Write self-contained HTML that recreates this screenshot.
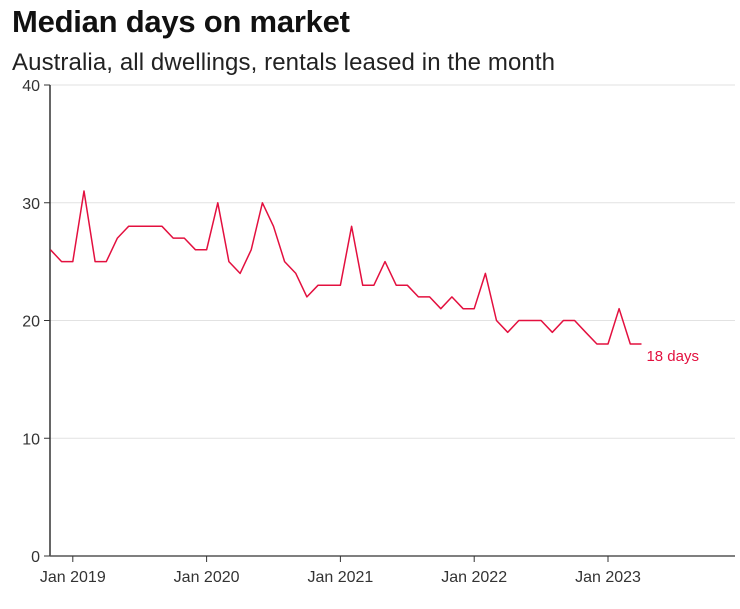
<!DOCTYPE html>
<html><head><meta charset="utf-8"><style>
body{margin:0;background:#fff;width:740px;height:604px;overflow:hidden;font-family:"Liberation Sans",sans-serif}
</style></head><body>
<svg width="740" height="604" xmlns="http://www.w3.org/2000/svg">
<text x="12" y="32" font-size="31" font-weight="bold" fill="#111" textLength="338">Median days on market</text>
<text x="12" y="70" font-size="24" fill="#222" textLength="543">Australia, all dwellings, rentals leased in the month</text>
<g id="grid"></g><g id="axes"></g>
<path id="line" fill="none" stroke="#e3103f" stroke-width="1.5" stroke-linejoin="round"/>
<text id="endlabel" font-size="15" fill="#e3103f">18 days</text>
</svg>
<script>
const values=[26,25,25,31,25,25,27,28,28,28,28,27,27,26,26,30,25,24,26,30,28,25,24,22,23,23,23,28,23,23,25,23,23,22,22,21,22,21,21,24,20,19,20,20,20,19,20,20,19,18,18,21,18,18];
const yTicks=[0,10,20,30,40];
const xLabels=["Jan 2019","Jan 2020","Jan 2021","Jan 2022","Jan 2023"];
const xLabelIdx=[2,14,26,38,50];
const endLabel="18 days";
const NS="http://www.w3.org/2000/svg";
const x=i=>50.5+i*11.15;
const y=v=>556-v*11.775;
const grid=document.getElementById('grid'),axes=document.getElementById('axes');
yTicks.forEach(t=>{
 if(t>0){const l=document.createElementNS(NS,'line');
 l.setAttribute('x1',50);l.setAttribute('x2',735);l.setAttribute('y1',y(t));l.setAttribute('y2',y(t));
 l.setAttribute('stroke','#e2e2e2');l.setAttribute('stroke-width','1');
 
 
 grid.appendChild(l);}
 const tk=document.createElementNS(NS,'line');
 tk.setAttribute('x1',44);tk.setAttribute('x2',50);tk.setAttribute('y1',y(t));tk.setAttribute('y2',y(t));
 tk.setAttribute('stroke','#333');
 
 
 axes.appendChild(tk);
 const tx=document.createElementNS(NS,'text');
 tx.setAttribute('x',40);tx.setAttribute('y',y(t)+6);tx.setAttribute('text-anchor','end');tx.setAttribute('font-size','16');tx.setAttribute('fill','#333');
 tx.textContent=t;
 
 
 axes.appendChild(tx);
});
const ax=document.createElementNS(NS,'line');
ax.setAttribute('x1',50);ax.setAttribute('x2',50);ax.setAttribute('y1',85);ax.setAttribute('y2',556);ax.setAttribute('stroke','#333');ax.setAttribute('stroke-width','1.5');


axes.appendChild(ax);
const bx=document.createElementNS(NS,'line');
bx.setAttribute('x1',50);bx.setAttribute('x2',735);bx.setAttribute('y1',556);bx.setAttribute('y2',556);bx.setAttribute('stroke','#555');bx.setAttribute('stroke-width','1.5');


axes.appendChild(bx);
xLabels.forEach((lab,k)=>{
 const xi=x(xLabelIdx[k]);
 const tk=document.createElementNS(NS,'line');
 tk.setAttribute('x1',xi);tk.setAttribute('x2',xi);tk.setAttribute('y1',556);tk.setAttribute('y2',562);tk.setAttribute('stroke','#333');
 
 
 axes.appendChild(tk);
 const tx=document.createElementNS(NS,'text');
 tx.setAttribute('x',xi);tx.setAttribute('y',582);tx.setAttribute('text-anchor','middle');tx.setAttribute('font-size','16');tx.setAttribute('fill','#333');
 tx.textContent=lab;
 
 
 axes.appendChild(tx);
});
document.getElementById('line').setAttribute('d',values.map((v,i)=>(i?'L':'M')+x(i).toFixed(1)+','+y(v).toFixed(1)).join(''));
const el=document.getElementById('endlabel');
el.textContent=endLabel;
el.setAttribute('x',x(values.length-1)+5);
el.setAttribute('y',y(values[values.length-1])+17);
</script>
</body></html>
